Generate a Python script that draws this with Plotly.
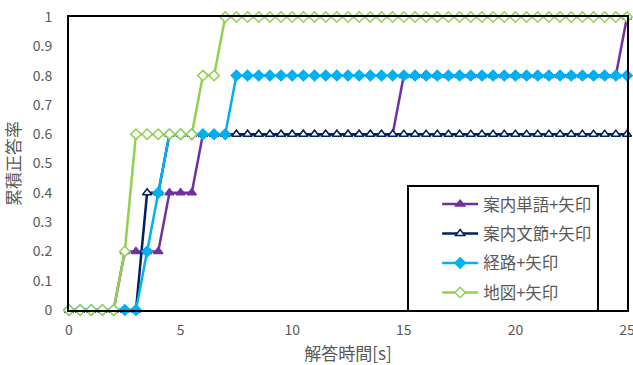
import plotly.graph_objects as go

# Answer time axis (seconds), sampled every 0.5 s
t = [i * 0.5 for i in range(51)]

def steps(changes):
    """Cumulative accuracy series from (time, value) change points."""
    out = []
    for x in t:
        v = 0.0
        for ct, cv in changes:
            if x >= ct:
                v = cv
        out.append(v)
    return out

# Cumulative correct-answer rate per condition
word_arrow = steps([(2.5, 0.2), (4.5, 0.4), (6.0, 0.6), (15.0, 0.8), (25.0, 1.0)])
phrase_arrow = steps([(3.5, 0.4), (4.5, 0.6)])
route_arrow = steps([(3.5, 0.2), (4.0, 0.4), (4.5, 0.6), (7.5, 0.8)])
map_arrow = steps([(2.5, 0.2), (3.0, 0.6), (6.0, 0.8), (7.0, 1.0)])

names = ["案内単語+矢印", "案内文節+矢印", "経路+矢印", "地図+矢印"]
colors = ["#7030A0", "#002060", "#00B0F0", "#92D050"]
symbols = ["triangle-up", "triangle-up", "diamond", "diamond"]
fills = ["#7030A0", "#FFFFFF", "#00B0F0", "#FFFFFF"]
series = [word_arrow, phrase_arrow, route_arrow, map_arrow]

y_ticks = [0, 0.1, 0.2, 0.3, 0.4, 0.5, 0.6, 0.7, 0.8, 0.9, 1]
y_labels = ["0", "0.1", "0.2", "0.3", "0.4", "0.5", "0.6", "0.7", "0.8", "0.9", "1"]
x_ticks = [0, 5, 10, 15, 20, 25]

fig = go.Figure()
for i, (name, col, sym, fill, ys) in enumerate(zip(names, colors, symbols, fills, series)):
    fig.add_trace(go.Scatter(
        x=t, y=ys, name=name, mode="lines+markers",
        legendgroup=f"g{i}",
        line=dict(color=col, width=2.5),
        marker=dict(symbol=sym, size=8, color=fill,
                    line=dict(color=col, width=1.5)),
        cliponaxis=False,
    ))

font_family = "Noto Sans CJK JP"
grey = "#595959"

fig.update_layout(
    width=633, height=365,
    margin=dict(l=69, r=6, t=17, b=55),
    paper_bgcolor="white", plot_bgcolor="white",
    font=dict(family=font_family, color=grey, size=14),
    showlegend=True,
    legend=dict(
        x=0.606, y=0.427, xanchor="left", yanchor="top",
        bordercolor="black", borderwidth=2, bgcolor="white",
        font=dict(size=16.5, color=grey, family=font_family),
        itemwidth=36, indentation=28,
        entrywidth=130, entrywidthmode="pixels",
        traceorder="grouped", tracegroupgap=5,
    ),
    xaxis=dict(
        range=[0, 25], tickvals=x_ticks, showgrid=False, zeroline=False,
        showline=True, mirror=True, linecolor="black", linewidth=2,
        ticks="", tickfont=dict(size=14, color=grey), automargin=False,
        ticklabelstandoff=6, ticklabeloverflow="allow",
        title=dict(text="解答時間[s]", font=dict(size=17, color=grey), standoff=14),
    ),
    yaxis=dict(
        range=[0, 1], tickvals=y_ticks, ticktext=y_labels, showgrid=False,
        zeroline=False, showline=True, mirror=True, linecolor="black",
        linewidth=2, ticks="", tickfont=dict(size=14, color=grey),
        automargin=False, ticklabelstandoff=12,
        title=dict(text="累積正答率", font=dict(size=17, color=grey), standoff=14),
    ),
)

fig.write_html("out.html")
